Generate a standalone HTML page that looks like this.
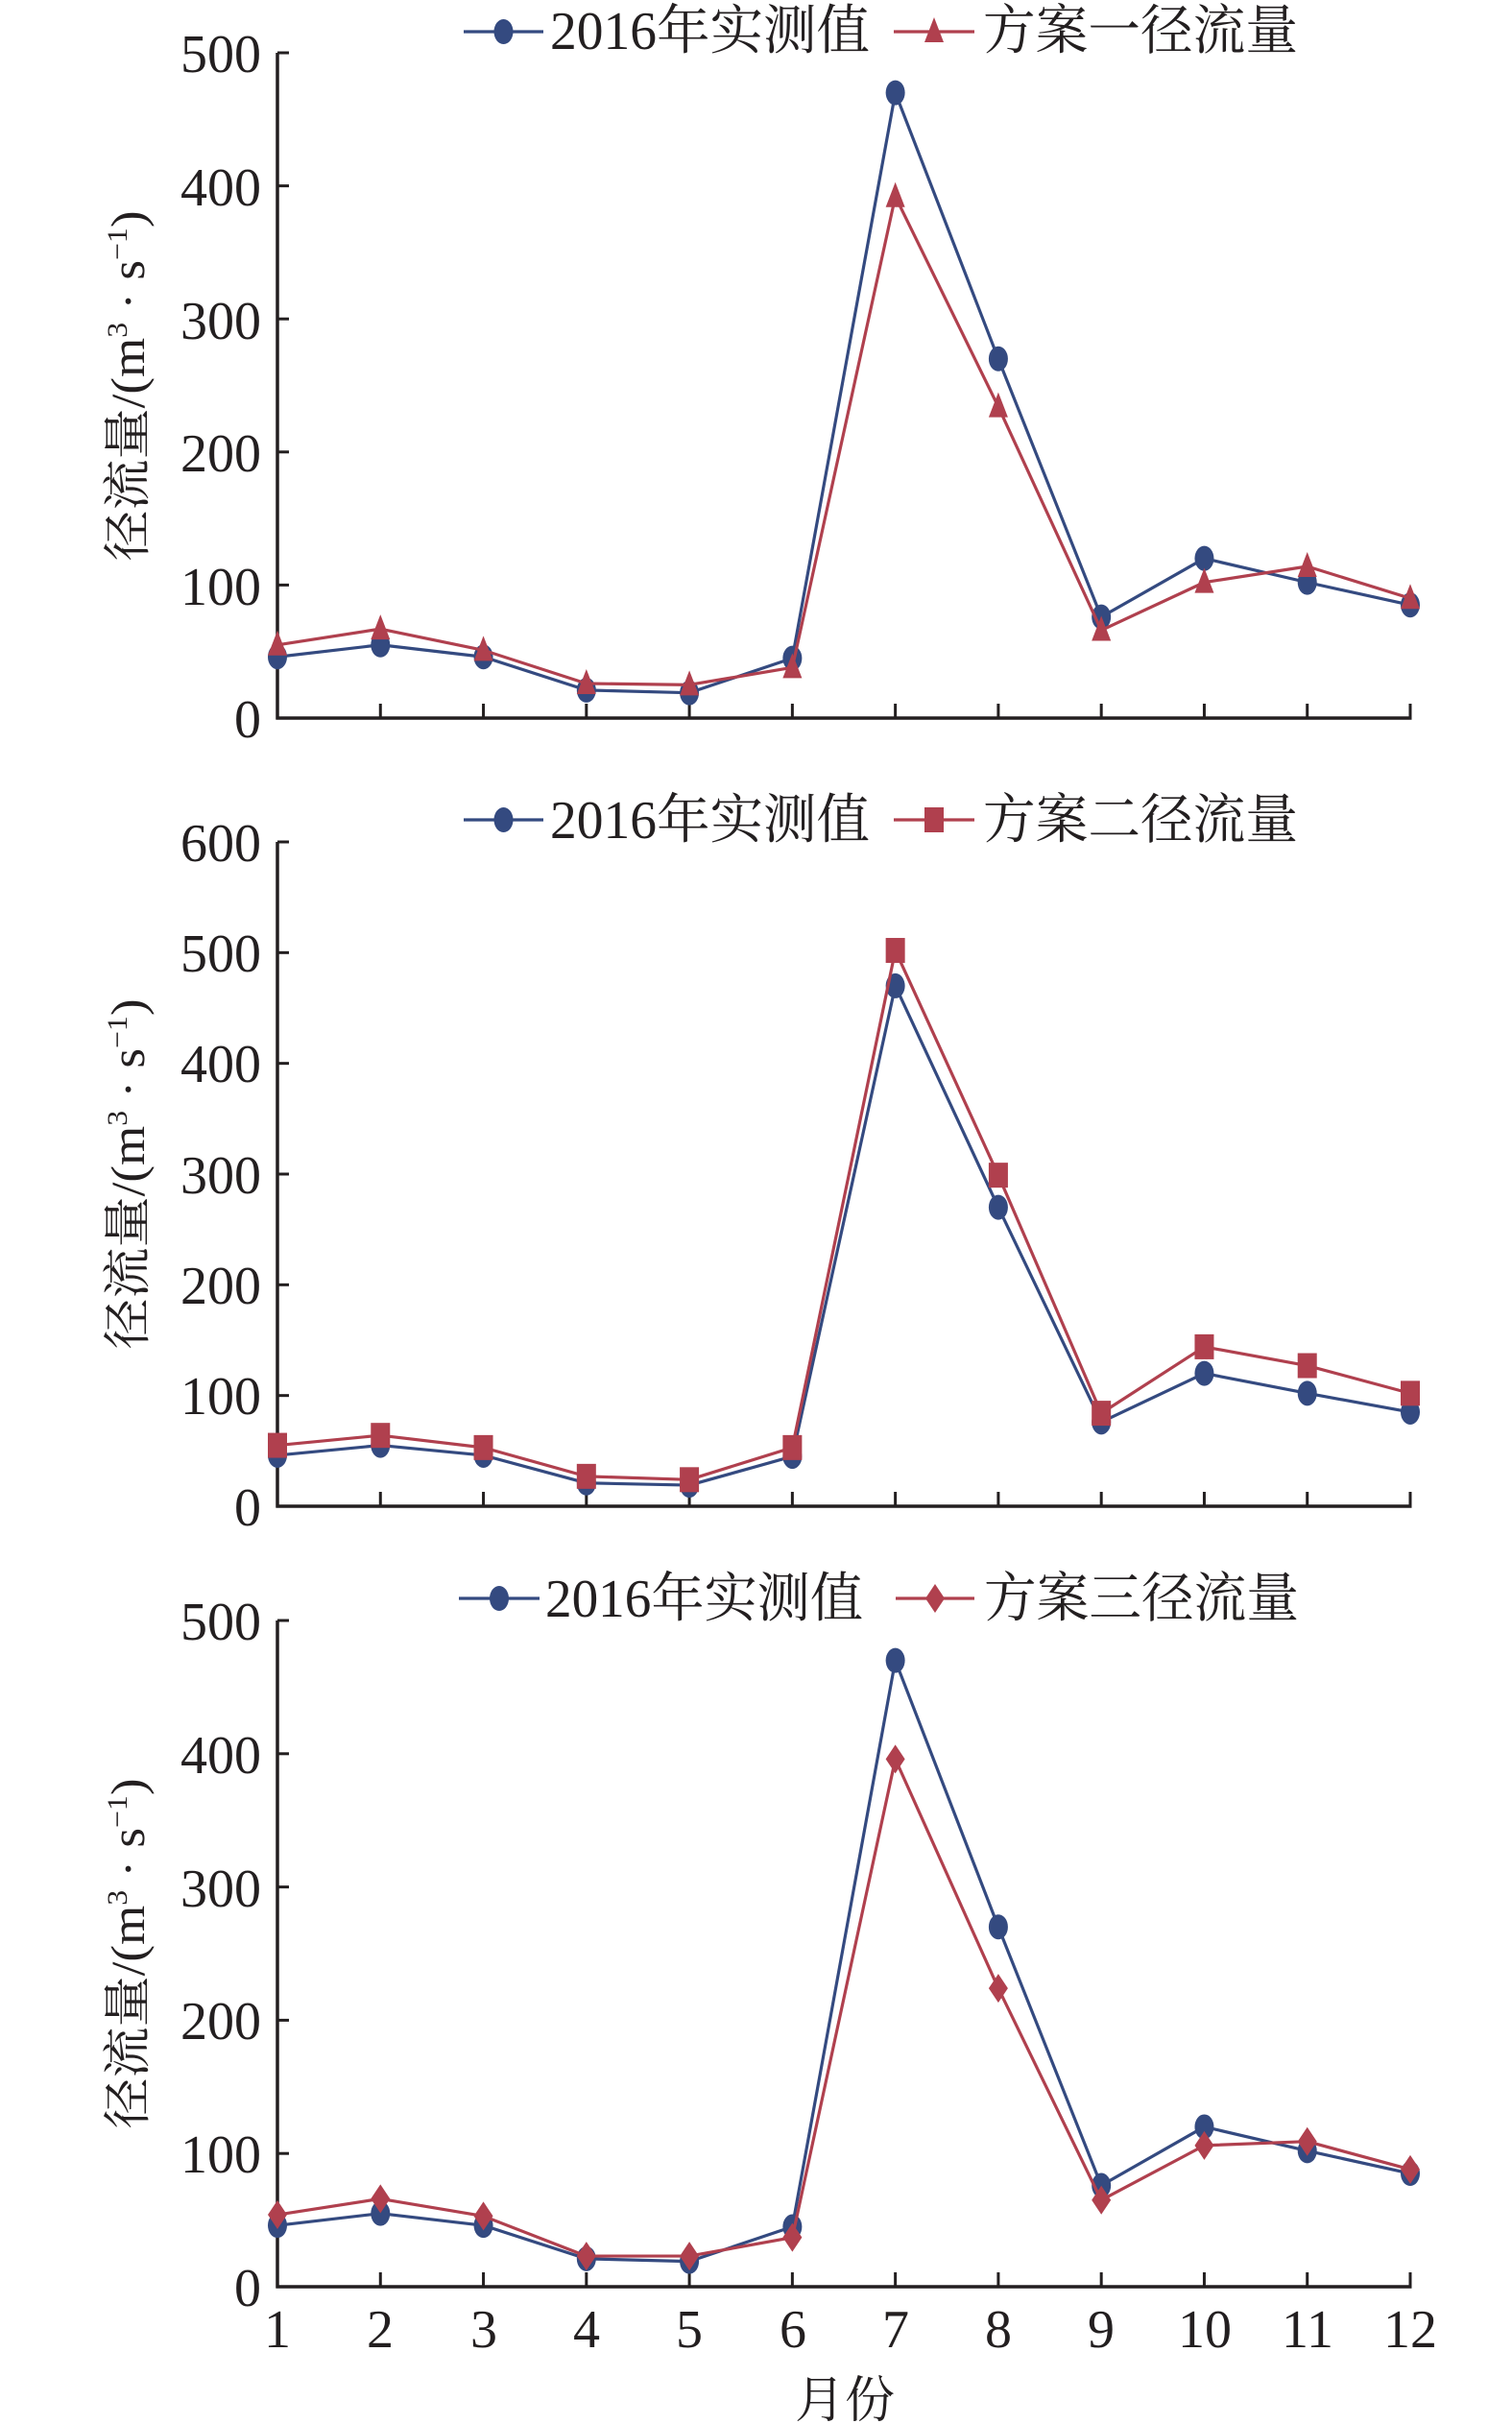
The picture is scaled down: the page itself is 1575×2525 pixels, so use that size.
<!DOCTYPE html>
<html><head><meta charset="utf-8"><style>
html,body{margin:0;padding:0;background:#fff}
svg{display:block}
text{font-family:"Liberation Serif","Noto Serif CJK SC",serif;fill:#231f20}
</style></head><body>
<svg id="s" width="1575" height="2525" viewBox="0 0 1575 2525" xmlns="http://www.w3.org/2000/svg">
<g font-size="56">
<text x="272" y="75" text-anchor="end">500</text>
<text x="272" y="214" text-anchor="end">400</text>
<text x="272" y="353" text-anchor="end">300</text>
<text x="272" y="491" text-anchor="end">200</text>
<text x="272" y="630" text-anchor="end">100</text>
<text x="272" y="768" text-anchor="end">0</text>
<text x="573" y="51" textLength="333" lengthAdjust="spacingAndGlyphs">2016年实测值</text>
<text x="1024" y="51" textLength="328" lengthAdjust="spacingAndGlyphs">方案一径流量</text>
</g>
<text transform="translate(150,402) rotate(-90)" text-anchor="middle" font-size="50" textLength="365" lengthAdjust="spacingAndGlyphs">径流量/(m<tspan font-size="30" dy="-18">3</tspan><tspan dy="18"> · s</tspan><tspan font-size="30" dy="-18">−1</tspan><tspan dy="18">)</tspan></text>
<g font-size="56">
<text x="272" y="897" text-anchor="end">600</text>
<text x="272" y="1012" text-anchor="end">500</text>
<text x="272" y="1127" text-anchor="end">400</text>
<text x="272" y="1243" text-anchor="end">300</text>
<text x="272" y="1358" text-anchor="end">200</text>
<text x="272" y="1473" text-anchor="end">100</text>
<text x="272" y="1589" text-anchor="end">0</text>
<text x="573" y="873" textLength="333" lengthAdjust="spacingAndGlyphs">2016年实测值</text>
<text x="1024" y="873" textLength="328" lengthAdjust="spacingAndGlyphs">方案二径流量</text>
</g>
<text transform="translate(150,1223) rotate(-90)" text-anchor="middle" font-size="50" textLength="365" lengthAdjust="spacingAndGlyphs">径流量/(m<tspan font-size="30" dy="-18">3</tspan><tspan dy="18"> · s</tspan><tspan font-size="30" dy="-18">−1</tspan><tspan dy="18">)</tspan></text>
<g font-size="56">
<text x="272" y="1708" text-anchor="end">500</text>
<text x="272" y="1847" text-anchor="end">400</text>
<text x="272" y="1986" text-anchor="end">300</text>
<text x="272" y="2124" text-anchor="end">200</text>
<text x="272" y="2263" text-anchor="end">100</text>
<text x="272" y="2402" text-anchor="end">0</text>
<text x="568" y="1684" textLength="331" lengthAdjust="spacingAndGlyphs">2016年实测值</text>
<text x="1025" y="1684" textLength="328" lengthAdjust="spacingAndGlyphs">方案三径流量</text>
</g>
<text transform="translate(150,2035) rotate(-90)" text-anchor="middle" font-size="50" textLength="365" lengthAdjust="spacingAndGlyphs">径流量/(m<tspan font-size="30" dy="-18">3</tspan><tspan dy="18"> · s</tspan><tspan font-size="30" dy="-18">−1</tspan><tspan dy="18">)</tspan></text>
<g font-size="56" text-anchor="middle">
<text x="289" y="2445">1</text><text x="396" y="2445">2</text><text x="504" y="2445">3</text>
<text x="611" y="2445">4</text><text x="718" y="2445">5</text><text x="826" y="2445">6</text>
<text x="933" y="2445">7</text><text x="1040" y="2445">8</text><text x="1147" y="2445">9</text>
<text x="1255" y="2445">10</text><text x="1362" y="2445">11</text><text x="1469" y="2445">12</text>
<text x="880" y="2518" font-size="52">月份</text>
</g>
<g id="g"></g>
</svg>
<script>
(function(){
var NS="http://www.w3.org/2000/svg",g=document.getElementById("g");
var B="#344a80",R="#b0404e";
function el(t,a){var e=document.createElementNS(NS,t);for(var k in a)e.setAttribute(k,a[k]);g.appendChild(e);return e;}
var x0=289,x12=1469,dx=(x12-x0)/11;
function X(i){return x0+i*dx;}
var obs=[46,55,46,21,19,45,470,270,76,120,102,85];
var s1=[55,67,51,26,25,38,392,234,66,102,114,90];
var s2=[55,64,53,27,24,53,502,299,84,144,127,102];
var s3=[54,66,53,23,23,37,396,224,65,106,109,88];
function marker(type,x,y,c){
 if(type=="c")el("ellipse",{cx:x,cy:y,rx:10,ry:13,fill:c});
 else if(type=="t")el("polygon",{points:(x)+","+(y-15)+" "+(x-10)+","+(y+11)+" "+(x+10)+","+(y+11),fill:c});
 else if(type=="s")el("rect",{x:x-10,y:y-13,width:20,height:26,fill:c});
 else el("polygon",{points:x+","+(y-15)+" "+(x+10)+","+y+" "+x+","+(y+15)+" "+(x-10)+","+y,fill:c});
}
function chart(y0,ytop,vmax,step,data,mt,ly,l1,l2){
 var sc=(y0-ytop)/vmax;
 function Y(v){return y0-v*sc;}
 el("line",{x1:x0,y1:ytop,x2:x0,y2:y0+1.5,stroke:"#231f20","stroke-width":3.5});
 el("line",{x1:x0-1.5,y1:y0,x2:x12+1.5,y2:y0,stroke:"#231f20","stroke-width":3.5});
 for(var v=0;v<=vmax;v+=step)el("line",{x1:x0,y1:Y(v),x2:x0+12,y2:Y(v),stroke:"#231f20","stroke-width":3});
 for(var i=1;i<12;i++)el("line",{x1:X(i),y1:y0,x2:X(i),y2:y0-15,stroke:"#231f20","stroke-width":3});
 function series(d,c,m){
  var p=d.map(function(v,i){return X(i)+","+Y(v);}).join(" ");
  el("polyline",{points:p,fill:"none",stroke:c,"stroke-width":3.2,"stroke-linejoin":"round"});
  d.forEach(function(v,i){marker(m,X(i),Y(v),c);});
 }
 series(obs,B,"c");series(data,R,mt);
 el("line",{x1:l1[0],y1:ly,x2:l1[1],y2:ly,stroke:B,"stroke-width":3.2});
 marker("c",(l1[0]+l1[1])/2,ly,B);
 el("line",{x1:l2[0],y1:ly,x2:l2[1],y2:ly,stroke:R,"stroke-width":3.2});
 marker(mt,(l2[0]+l2[1])/2,ly,R);
}
chart(748,55,500,100,s1,"t",33,[483,566],[931,1015]);
chart(1569,877,600,100,s2,"s",854,[483,566],[931,1015]);
chart(2382,1688,500,100,s3,"d",1665,[478,562],[933,1015]);
})();
</script>
</body></html>
